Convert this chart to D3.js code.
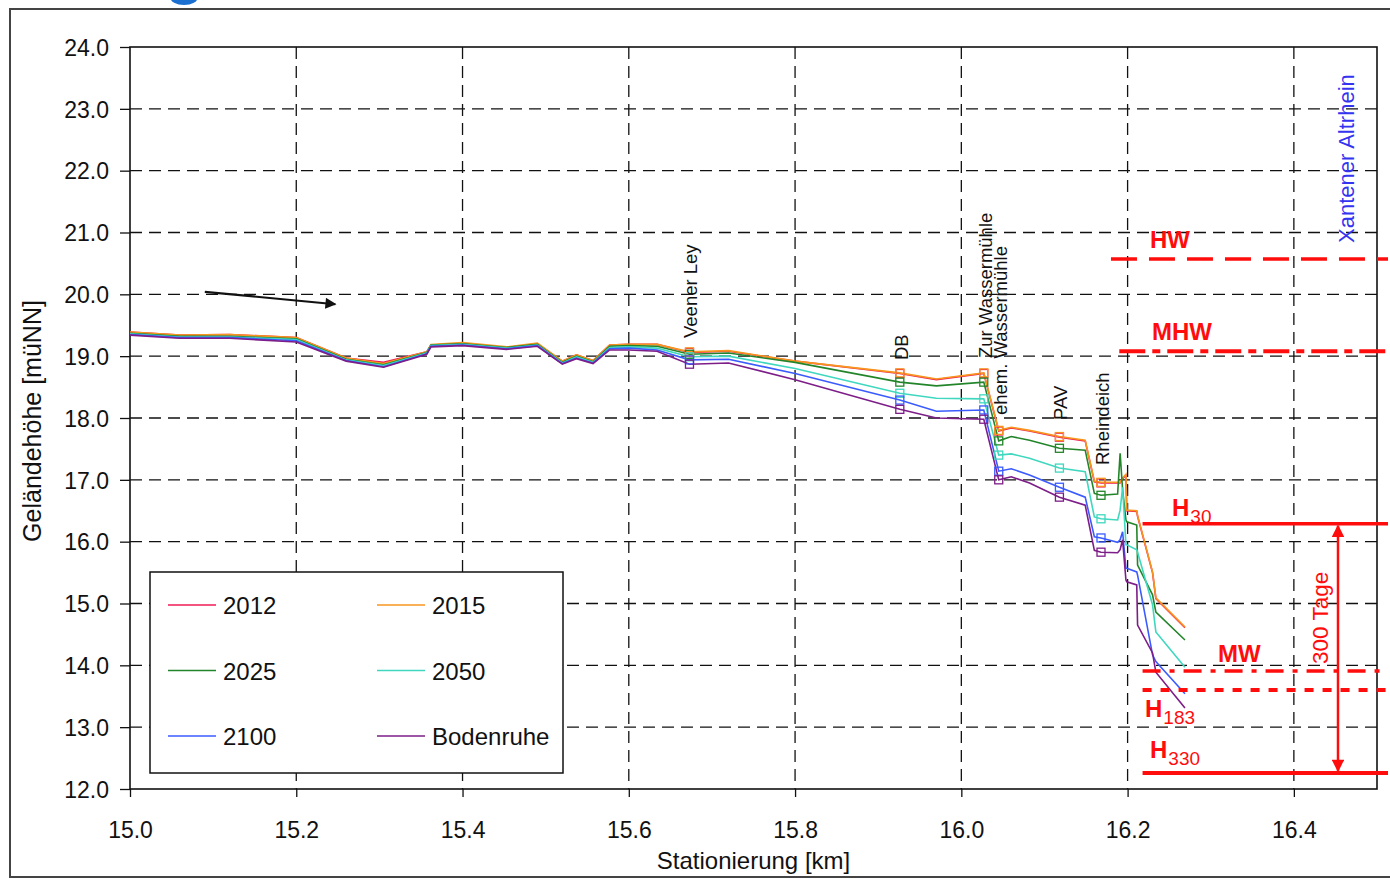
<!DOCTYPE html>
<html><head><meta charset="utf-8">
<script src="https://cdn.jsdelivr.net/npm/d3@7"></script>
<style>
html,body{margin:0;padding:0;background:#fff;}
svg{display:block;font-family:"Liberation Sans",Arial,sans-serif;}
</style></head>
<body>
<svg id="chart" width="1390" height="879"></svg>
<script>
// ---------------- data ----------------
const stations = [15.000, 15.060, 15.120, 15.200, 15.260, 15.305, 15.357, 15.362, 15.400, 15.453,
  15.490, 15.520, 15.537, 15.557, 15.577, 15.600, 15.634, 15.673, 15.720, 15.800,
  15.926, 15.970, 16.027, 16.045, 16.060, 16.082, 16.118, 16.149, 16.160, 16.168,
  16.188, 16.191, 16.194, 16.198, 16.199, 16.211, 16.212, 16.230, 16.234, 16.269];

const v2012 = [19.39,19.34,19.35,19.30,18.97,18.90,19.07,19.18,19.21,19.14,
  19.20,18.92,19.02,18.93,19.18,19.19,19.19,19.06,19.08,18.92,
  18.72,18.62,18.72,17.79,17.84,17.79,17.69,17.63,16.97,16.95,
  16.95,16.95,17.02,17.07,16.50,16.49,16.41,15.50,15.08,14.61];
const v2015 = [19.39,19.34,19.35,19.30,18.97,18.88,19.07,19.19,19.22,19.15,
  19.21,18.92,19.02,18.93,19.18,19.19,19.19,19.07,19.09,18.92,
  18.73,18.63,18.73,17.80,17.85,17.80,17.70,17.64,16.98,16.96,
  16.96,16.96,17.03,17.09,16.51,16.50,16.42,15.51,15.09,14.62];
const v2025 = [19.37,19.32,19.32,19.28,18.95,18.86,19.06,19.18,19.20,19.14,
  19.19,18.90,19.00,18.91,19.16,19.17,19.16,19.03,19.05,18.90,
  18.58,18.52,18.58,17.63,17.70,17.64,17.51,17.48,16.78,16.75,
  16.77,17.43,16.84,16.35,16.32,16.27,15.62,15.14,14.86,14.41];
const v2050 = [19.36,19.31,19.31,19.27,18.94,18.85,19.05,19.17,19.19,19.13,
  19.18,18.89,18.99,18.90,19.14,19.15,19.13,18.99,19.00,18.80,
  18.40,18.32,18.31,17.40,17.42,17.35,17.19,17.13,16.40,16.37,
  16.35,16.51,16.88,15.95,15.95,15.87,15.83,14.98,14.54,13.97];
const v2100 = [19.35,19.30,19.30,19.25,18.93,18.83,19.04,19.16,19.18,19.12,
  19.17,18.88,18.97,18.89,19.12,19.13,19.10,18.94,18.95,18.72,
  18.29,18.11,18.13,17.14,17.18,17.08,16.88,16.72,16.08,16.06,
  15.99,16.03,16.16,15.57,15.57,15.51,15.46,14.17,14.06,13.54];
const vBodenruhe = [19.34,19.29,19.29,19.23,18.92,18.82,19.03,19.15,19.17,19.11,
  19.16,18.87,18.96,18.88,19.10,19.10,19.08,18.87,18.89,18.62,
  18.14,18.00,17.98,17.00,17.05,16.95,16.72,16.59,15.86,15.83,
  15.82,15.87,16.03,15.38,15.35,15.30,14.65,14.20,13.89,13.31];

const seriesNames = ["2012","2015","2025","2050","2100","Bodenruhe"];
const seriesValues = [v2012, v2015, v2025, v2050, v2100, vBodenruhe];

const markerStations = [15.673, 15.926, 16.027, 16.045, 16.118, 16.168];
const landmarkNames = ["Veener Ley","DB","Zur Wassermühle","ehem. Wassermühle","PAV","Rheindeich"];
const landmarkKm = [15.673, 15.926, 16.027, 16.045, 16.118, 16.168];

const refNames = ["HW","MHW","H30","MW","H183","H330"];
const refValues = [20.57, 19.08, 16.29, 13.91, 13.60, 12.26];

const xTicks = [15.0, 15.2, 15.4, 15.6, 15.8, 16.0, 16.2, 16.4];
const yTicks = [12,13,14,15,16,17,18,19,20,21,22,23,24];

// ---------------- styles / layout ----------------
const colors = {"2012":"#ee1a55","2015":"#f7961e","2025":"#23852a","2050":"#3fd8bf","2100":"#3b5bff","Bodenruhe":"#7d1d88"};
const RED = "#ff0d0d";
const W = 1390, H = 879;
const L = 130, R = 1377, T = 47, B = 789;
const FONT = '"Liberation Sans",Arial,sans-serif';

const svg = d3.select("#chart");
const x = d3.scaleLinear().domain([15.0, 16.5]).range([L, R]);
const y = d3.scaleLinear().domain([12, 24]).range([B, T]);

svg.append("rect").attr("width",W).attr("height",H).attr("fill","#fff");
// cut-off heading glyph at top
svg.append("ellipse").attr("cx",184).attr("cy",-3).attr("rx",14).attr("ry",8).attr("fill","#1a6fd1");
// outer frame
svg.append("rect").attr("x",10).attr("y",9).attr("width",1400).attr("height",868)
  .attr("fill","none").attr("stroke","#444").attr("stroke-width",2);

// grid
const grid = svg.append("g").attr("stroke","#111").attr("stroke-width",1.3).attr("stroke-dasharray","12,7");
grid.selectAll(".gx").data(xTicks.filter(d=>d>15.0)).join("line")
  .attr("x1",d=>x(d)).attr("x2",d=>x(d)).attr("y1",T).attr("y2",B);
grid.selectAll(".gy").data(yTicks.filter(d=>d>12 && d<24)).join("line")
  .attr("x1",L).attr("x2",R).attr("y1",d=>y(d)).attr("y2",d=>y(d));

// axes
const xAxis = d3.axisBottom(x).tickValues(xTicks).tickFormat(d3.format(".1f")).tickSize(8).tickSizeOuter(0);
const yAxis = d3.axisLeft(y).tickValues(yTicks).tickFormat(d3.format(".1f")).tickSize(10).tickSizeOuter(0);
const gx = svg.append("g").attr("transform",`translate(0,${B})`).call(xAxis);
const gy = svg.append("g").attr("transform",`translate(${L},0)`).call(yAxis);
[gx,gy].forEach(g=>{
  g.select(".domain").remove();
  g.selectAll(".tick line").attr("stroke","#111").attr("stroke-width",1.3);
  g.selectAll(".tick text").attr("fill","#111").style("font-family",FONT).style("font-size","23px");
});
gx.selectAll(".tick text").attr("dy",null).attr("y",49);
gy.selectAll(".tick text").attr("x",-21).attr("dy","0.36em");

// plot frame
svg.append("rect").attr("x",L).attr("y",T).attr("width",R-L).attr("height",B-T)
  .attr("fill","none").attr("stroke","#111").attr("stroke-width",1.6);

// axis titles
svg.append("text").attr("x",(L+R)/2).attr("y",869).attr("text-anchor","middle")
  .style("font-size","24px").attr("fill","#111").text("Stationierung [km]");
svg.append("text").attr("transform",`translate(41,${(T+B)/2+3}) rotate(-90)`).attr("text-anchor","middle")
  .style("font-size","25px").attr("fill","#111").text("Geländehöhe [müNN]");

// flow arrow
svg.append("defs").append("marker").attr("id","ah").attr("viewBox","0 0 10 10").attr("refX",9).attr("refY",5)
  .attr("markerWidth",7).attr("markerHeight",5).attr("orient","auto").attr("markerUnits","strokeWidth")
  .append("path").attr("d","M0,0 L10,5 L0,10 z").attr("fill","#111");
svg.append("line").attr("x1",x(15.090)).attr("y1",y(20.04)).attr("x2",x(15.247)).attr("y2",y(19.84))
  .attr("stroke","#111").attr("stroke-width",2.2).attr("marker-end","url(#ah)");

// series lines
const line = d3.line().x(d=>x(d[0])).y(d=>y(d[1]));
seriesNames.forEach((name,i)=>{
  const pts = stations.map((s,j)=>[s, seriesValues[i][j]]);
  svg.append("path").datum(pts).attr("d",line).attr("fill","none")
    .attr("stroke",colors[name]).attr("stroke-width",1.6).attr("stroke-linejoin","miter");
});
// markers
seriesNames.forEach((name,i)=>{
  const pts = markerStations.map(s=>[s, seriesValues[i][stations.indexOf(s)]]);
  svg.append("g").selectAll("rect").data(pts).join("rect")
    .attr("x",d=>x(d[0])-4).attr("y",d=>y(d[1])-4).attr("width",8).attr("height",8)
    .attr("fill","none").attr("stroke",colors[name]).attr("stroke-width",1.3);
});

// landmark labels
const landmarkBottom = [338, 360, 358, 415, 420, 465];
landmarkNames.forEach((n,i)=>{
  svg.append("text").attr("transform",`translate(${x(landmarkKm[i])+8},${landmarkBottom[i]}) rotate(-90)`)
    .style("font-size","18.5px").attr("fill","#111").text(n);
});
svg.append("text").attr("transform",`translate(1354,243) rotate(-90)`)
  .style("font-size","22px").attr("fill","#3434f0").text("Xantener Altrhein");

// reference water levels
const refStart = [16.180, 16.190, 16.218, 16.218, 16.218, 16.218];
const refDash = ["26,12", "26,7,8,7", null, "18,9,5,9", "9,9", null];
const refWidth = [3.5, 4, 3.5, 3.5, 4, 4];
refNames.forEach((n,i)=>{
  const ln = svg.append("line").attr("x1",x(refStart[i])).attr("x2",1388)
    .attr("y1",y(refValues[i])).attr("y2",y(refValues[i]))
    .attr("stroke",RED).attr("stroke-width",refWidth[i]);
  if(refDash[i]) ln.attr("stroke-dasharray",refDash[i]);
});
function redLabel(px, py, main, sub){
  const t = svg.append("text").attr("x",px).attr("y",py).attr("fill",RED)
    .style("font-size","24px").style("font-weight","bold").text(main);
  if(sub) t.append("tspan").attr("dy",7).attr("dx",1).style("font-size","19px").style("font-weight","normal").text(sub);
}
redLabel(1150, 248, "HW");
redLabel(1152, 340, "MHW");
redLabel(1172, 516, "H", "30");
redLabel(1218, 662, "MW");
redLabel(1145, 717, "H", "183");
redLabel(1150, 758, "H", "330");

// 300 Tage double arrow
svg.append("defs").append("marker").attr("id","rah").attr("viewBox","0 0 10 10").attr("refX",9).attr("refY",5)
  .attr("markerWidth",6).attr("markerHeight",5).attr("orient","auto-start-reverse").attr("markerUnits","strokeWidth")
  .append("path").attr("d","M0,0 L10,5 L0,10 z").attr("fill",RED);
svg.append("line").attr("x1",1338).attr("x2",1338).attr("y1",y(refValues[2])+2).attr("y2",y(refValues[5])-2)
  .attr("stroke",RED).attr("stroke-width",2.5).attr("marker-start","url(#rah)").attr("marker-end","url(#rah)");
svg.append("text").attr("transform","translate(1328,664) rotate(-90)").attr("fill",RED)
  .style("font-size","22.5px").text("300 Tage");

// legend
const lg = svg.append("g");
lg.append("rect").attr("x",150).attr("y",572).attr("width",413).attr("height",201)
  .attr("fill","#fff").attr("stroke","#111").attr("stroke-width",1.5);
const legendOrder = ["2012","2015","2025","2050","2100","Bodenruhe"];
legendOrder.forEach((n,i)=>{
  const col = i%2, row = Math.floor(i/2);
  const lx = col===0 ? 168 : 377;
  const ly = 605 + row*65.5;
  lg.append("line").attr("x1",lx).attr("x2",lx+48).attr("y1",ly).attr("y2",ly)
    .attr("stroke",colors[n]).attr("stroke-width",1.5);
  lg.append("text").attr("x",lx+55).attr("y",ly+9).style("font-size","24px").attr("fill","#111").text(n);
});
</script>
</body></html>
